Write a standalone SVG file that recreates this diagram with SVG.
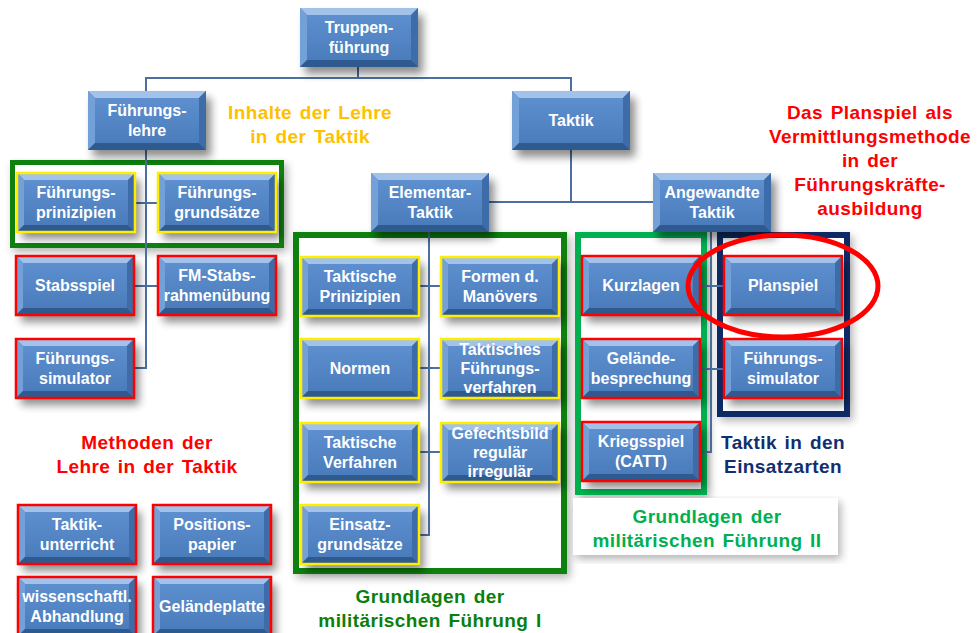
<svg xmlns="http://www.w3.org/2000/svg" xmlns:xlink="http://www.w3.org/1999/xlink" width="978" height="633" viewBox="0 0 978 633">
<style>
.t{font-family:"Liberation Sans",Arial,sans-serif;font-weight:bold;font-size:16px;fill:#fff;text-anchor:middle}
.l{font-family:"Liberation Sans",Arial,sans-serif;font-weight:bold;font-size:19px;text-anchor:middle;letter-spacing:0.4px;word-spacing:2px}
.yb{fill:none;stroke:#ffee00;stroke-width:2.5}
.rb{fill:none;stroke:#ff0000;stroke-width:2.5}
.sh{filter:url(#ds)}
.fr{fill:#fff;filter:url(#fs)}
.cn{fill:none;stroke:#4a6fa0;stroke-width:2}
</style>
<defs>
<filter id="ds" x="-20%" y="-20%" width="150%" height="160%">
<feGaussianBlur in="SourceAlpha" stdDeviation="4"/>
<feOffset dx="5" dy="7" result="b"/>
<feComponentTransfer><feFuncA type="linear" slope="0.45"/></feComponentTransfer>
<feMerge><feMergeNode/><feMergeNode in="SourceGraphic"/></feMerge>
</filter>
<filter id="fs" x="-10%" y="-10%" width="125%" height="125%">
<feGaussianBlur in="SourceAlpha" stdDeviation="4"/>
<feOffset dx="3" dy="4"/>
<feComponentTransfer><feFuncA type="linear" slope="0.3"/></feComponentTransfer>
<feMerge><feMergeNode/><feMergeNode in="SourceGraphic"/></feMerge>
</filter>
<linearGradient id="face" x1="0" y1="0" x2="0" y2="1">
<stop offset="0" stop-color="#5d8fcf"/>
<stop offset="1" stop-color="#4b7cbb"/>
</linearGradient>
<symbol id="bx" overflow="visible">
<rect width="118" height="59" fill="#4f81bd"/>
<polygon points="0,0 118,0 111,7 7,7" fill="#a3c2ea"/>
<polygon points="0,0 7,7 7,52 0,59" fill="#73a0d6"/>
<polygon points="118,0 118,59 111,52 111,7" fill="#3e6ca8"/>
<polygon points="0,59 7,52 111,52 118,59" fill="#2e5a90"/>
<rect x="7" y="7" width="104" height="45" fill="url(#face)"/>
</symbol>
</defs>
<rect width="978" height="633" fill="#fff"/>

<g id="frames">
<rect class="fr" x="12.5" y="162.5" width="269" height="83" stroke="#0a800a" stroke-width="5"/>
<rect class="fr" x="296" y="235" width="268" height="336" stroke="#0a800a" stroke-width="6"/>
<rect class="fr" x="578" y="235" width="126" height="257" stroke="#00b050" stroke-width="6"/>
<rect class="fr" x="720" y="235" width="127" height="179" stroke="#0d2a66" stroke-width="6"/>
<rect class="fr" x="573" y="498" width="265" height="57" fill="#fff"/>
</g>

<g id="connectors" class="cn">
<path d="M358,66 V78 M146,91 V78 H571 V91"/>
<path d="M146,148 V368 H135 M135,203 H158 M135,286 H158"/>
<path d="M571,148 V202 M488,202 H653"/>
<path d="M429,230 V535 H419 M419,286 H441 M419,368 H441 M419,452 H441"/>
<path d="M711,230 V452 H699 M699,286 H724 M699,369 H724"/>
</g>

<g id="n-truppenfuehrung"><use class="sh" href="#bx" x="300" y="8"/><text class="t" x="359" y="33">Truppen-</text><text class="t" x="359" y="53">führung</text></g>
<g id="n-fuehrungslehre"><use class="sh" href="#bx" x="88" y="91"/><text class="t" x="147" y="116">Führungs-</text><text class="t" x="147" y="136">lehre</text></g>
<g id="n-taktik"><use class="sh" href="#bx" x="512" y="91"/><text class="t" x="571" y="126">Taktik</text></g>
<g id="n-elementar"><use class="sh" href="#bx" x="371" y="173"/><text class="t" x="430" y="198">Elementar-</text><text class="t" x="430" y="218">Taktik</text></g>
<g id="n-angewandte"><use class="sh" href="#bx" x="653" y="173"/><text class="t" x="712" y="198">Angewandte</text><text class="t" x="712" y="218">Taktik</text></g>

<g id="n-fprinzipien"><use class="sh" href="#bx" x="17" y="173"/><rect class="yb" x="17" y="173" width="118" height="59"/><text class="t" x="76" y="198">Führungs-</text><text class="t" x="76" y="218">prinizipien</text></g>
<g id="n-fgrundsaetze"><use class="sh" href="#bx" x="158" y="173"/><rect class="yb" x="158" y="173" width="118" height="59"/><text class="t" x="217" y="198">Führungs-</text><text class="t" x="217" y="218">grundsätze</text></g>
<g id="n-stabsspiel"><use class="sh" href="#bx" x="16" y="256"/><rect class="rb" x="16" y="256" width="118" height="59"/><text class="t" x="75" y="291">Stabsspiel</text></g>
<g id="n-fmstabs"><use class="sh" href="#bx" x="158" y="256"/><rect class="rb" x="158" y="256" width="118" height="59"/><text class="t" x="217" y="281">FM-Stabs-</text><text class="t" x="217" y="301">rahmenübung</text></g>
<g id="n-fsim1"><use class="sh" href="#bx" x="16" y="339"/><rect class="rb" x="16" y="339" width="118" height="59"/><text class="t" x="75" y="364">Führungs-</text><text class="t" x="75" y="384">simulator</text></g>

<g id="n-tprinzipien"><use class="sh" href="#bx" x="301" y="257"/><rect class="yb" x="301" y="257" width="118" height="59"/><text class="t" x="360" y="282">Taktische</text><text class="t" x="360" y="302">Prinizipien</text></g>
<g id="n-formen"><use class="sh" href="#bx" x="441" y="257"/><rect class="yb" x="441" y="257" width="118" height="59"/><text class="t" x="500" y="282">Formen d.</text><text class="t" x="500" y="302">Manövers</text></g>
<g id="n-normen"><use class="sh" href="#bx" x="301" y="339"/><rect class="yb" x="301" y="339" width="118" height="59"/><text class="t" x="360" y="374">Normen</text></g>
<g id="n-tfverfahren"><use class="sh" href="#bx" x="441" y="339"/><rect class="yb" x="441" y="339" width="118" height="59"/><text class="t" x="500" y="355">Taktisches</text><text class="t" x="500" y="374">Führungs-</text><text class="t" x="500" y="393">verfahren</text></g>
<g id="n-tverfahren"><use class="sh" href="#bx" x="301" y="423"/><rect class="yb" x="301" y="423" width="118" height="59"/><text class="t" x="360" y="448">Taktische</text><text class="t" x="360" y="468">Verfahren</text></g>
<g id="n-gefechtsbild"><use class="sh" href="#bx" x="441" y="423"/><rect class="yb" x="441" y="423" width="118" height="59"/><text class="t" x="500" y="439">Gefechtsbild</text><text class="t" x="500" y="458">regulär</text><text class="t" x="500" y="477">irregulär</text></g>
<g id="n-einsatz"><use class="sh" href="#bx" x="301" y="505"/><rect class="yb" x="301" y="505" width="118" height="59"/><text class="t" x="360" y="530">Einsatz-</text><text class="t" x="360" y="550">grundsätze</text></g>

<g id="n-kurzlagen"><use class="sh" href="#bx" x="582" y="256"/><rect class="rb" x="582" y="256" width="118" height="59"/><text class="t" x="641" y="291">Kurzlagen</text></g>
<g id="n-gelaende"><use class="sh" href="#bx" x="582" y="339"/><rect class="rb" x="582" y="339" width="118" height="59"/><text class="t" x="641" y="364">Gelände-</text><text class="t" x="641" y="384">besprechung</text></g>
<g id="n-kriegsspiel"><use class="sh" href="#bx" x="582" y="422"/><rect class="rb" x="582" y="422" width="118" height="59"/><text class="t" x="641" y="447">Kriegsspiel</text><text class="t" x="641" y="467">(CATT)</text></g>
<g id="n-planspiel"><use class="sh" href="#bx" x="724" y="256"/><rect class="rb" x="724" y="256" width="118" height="59"/><text class="t" x="783" y="291">Planspiel</text></g>
<g id="n-fsim2"><use class="sh" href="#bx" x="724" y="339"/><rect class="rb" x="724" y="339" width="118" height="59"/><text class="t" x="783" y="364">Führungs-</text><text class="t" x="783" y="384">simulator</text></g>

<g id="n-unterricht"><use class="sh" href="#bx" x="18" y="505"/><rect class="rb" x="18" y="505" width="118" height="59"/><text class="t" x="77" y="530">Taktik-</text><text class="t" x="77" y="550">unterricht</text></g>
<g id="n-position"><use class="sh" href="#bx" x="153" y="505"/><rect class="rb" x="153" y="505" width="118" height="59"/><text class="t" x="212" y="530">Positions-</text><text class="t" x="212" y="550">papier</text></g>
<g id="n-abhandlung"><use class="sh" href="#bx" x="18" y="577"/><rect class="rb" x="18" y="577" width="118" height="59"/><text class="t" x="77" y="602">wissenschaftl.</text><text class="t" x="77" y="622">Abhandlung</text></g>
<g id="n-gelaendeplatte"><use class="sh" href="#bx" x="153" y="577"/><rect class="rb" x="153" y="577" width="118" height="59"/><text class="t" x="212" y="612">Geländeplatte</text></g>

<ellipse id="highlight" cx="783" cy="286" rx="95" ry="51" fill="none" stroke="#ff0000" stroke-width="5"/>

<g id="labels">
<text class="l" fill="#ffc000"><tspan x="310" y="119">Inhalte der Lehre</tspan><tspan x="310" y="143">in der Taktik</tspan></text>
<text class="l" fill="#ff0000"><tspan x="870" y="119">Das Planspiel als</tspan><tspan x="870" y="143">Vermittlungsmethode</tspan><tspan x="870" y="167">in der</tspan><tspan x="870" y="191">Führungskräfte-</tspan><tspan x="870" y="215">ausbildung</tspan></text>
<text class="l" fill="#ff0000"><tspan x="147" y="449">Methoden der</tspan><tspan x="147" y="473">Lehre in der Taktik</tspan></text>
<text class="l" fill="#112f6e"><tspan x="783" y="449">Taktik in den</tspan><tspan x="783" y="473">Einsatzarten</tspan></text>
<text class="l" fill="#00b050"><tspan x="707" y="523">Grundlagen der</tspan><tspan x="707" y="547">militärischen Führung II</tspan></text>
<text class="l" fill="#0a800a"><tspan x="430" y="603">Grundlagen der</tspan><tspan x="430" y="627">militärischen Führung I</tspan></text>
</g>
</svg>
